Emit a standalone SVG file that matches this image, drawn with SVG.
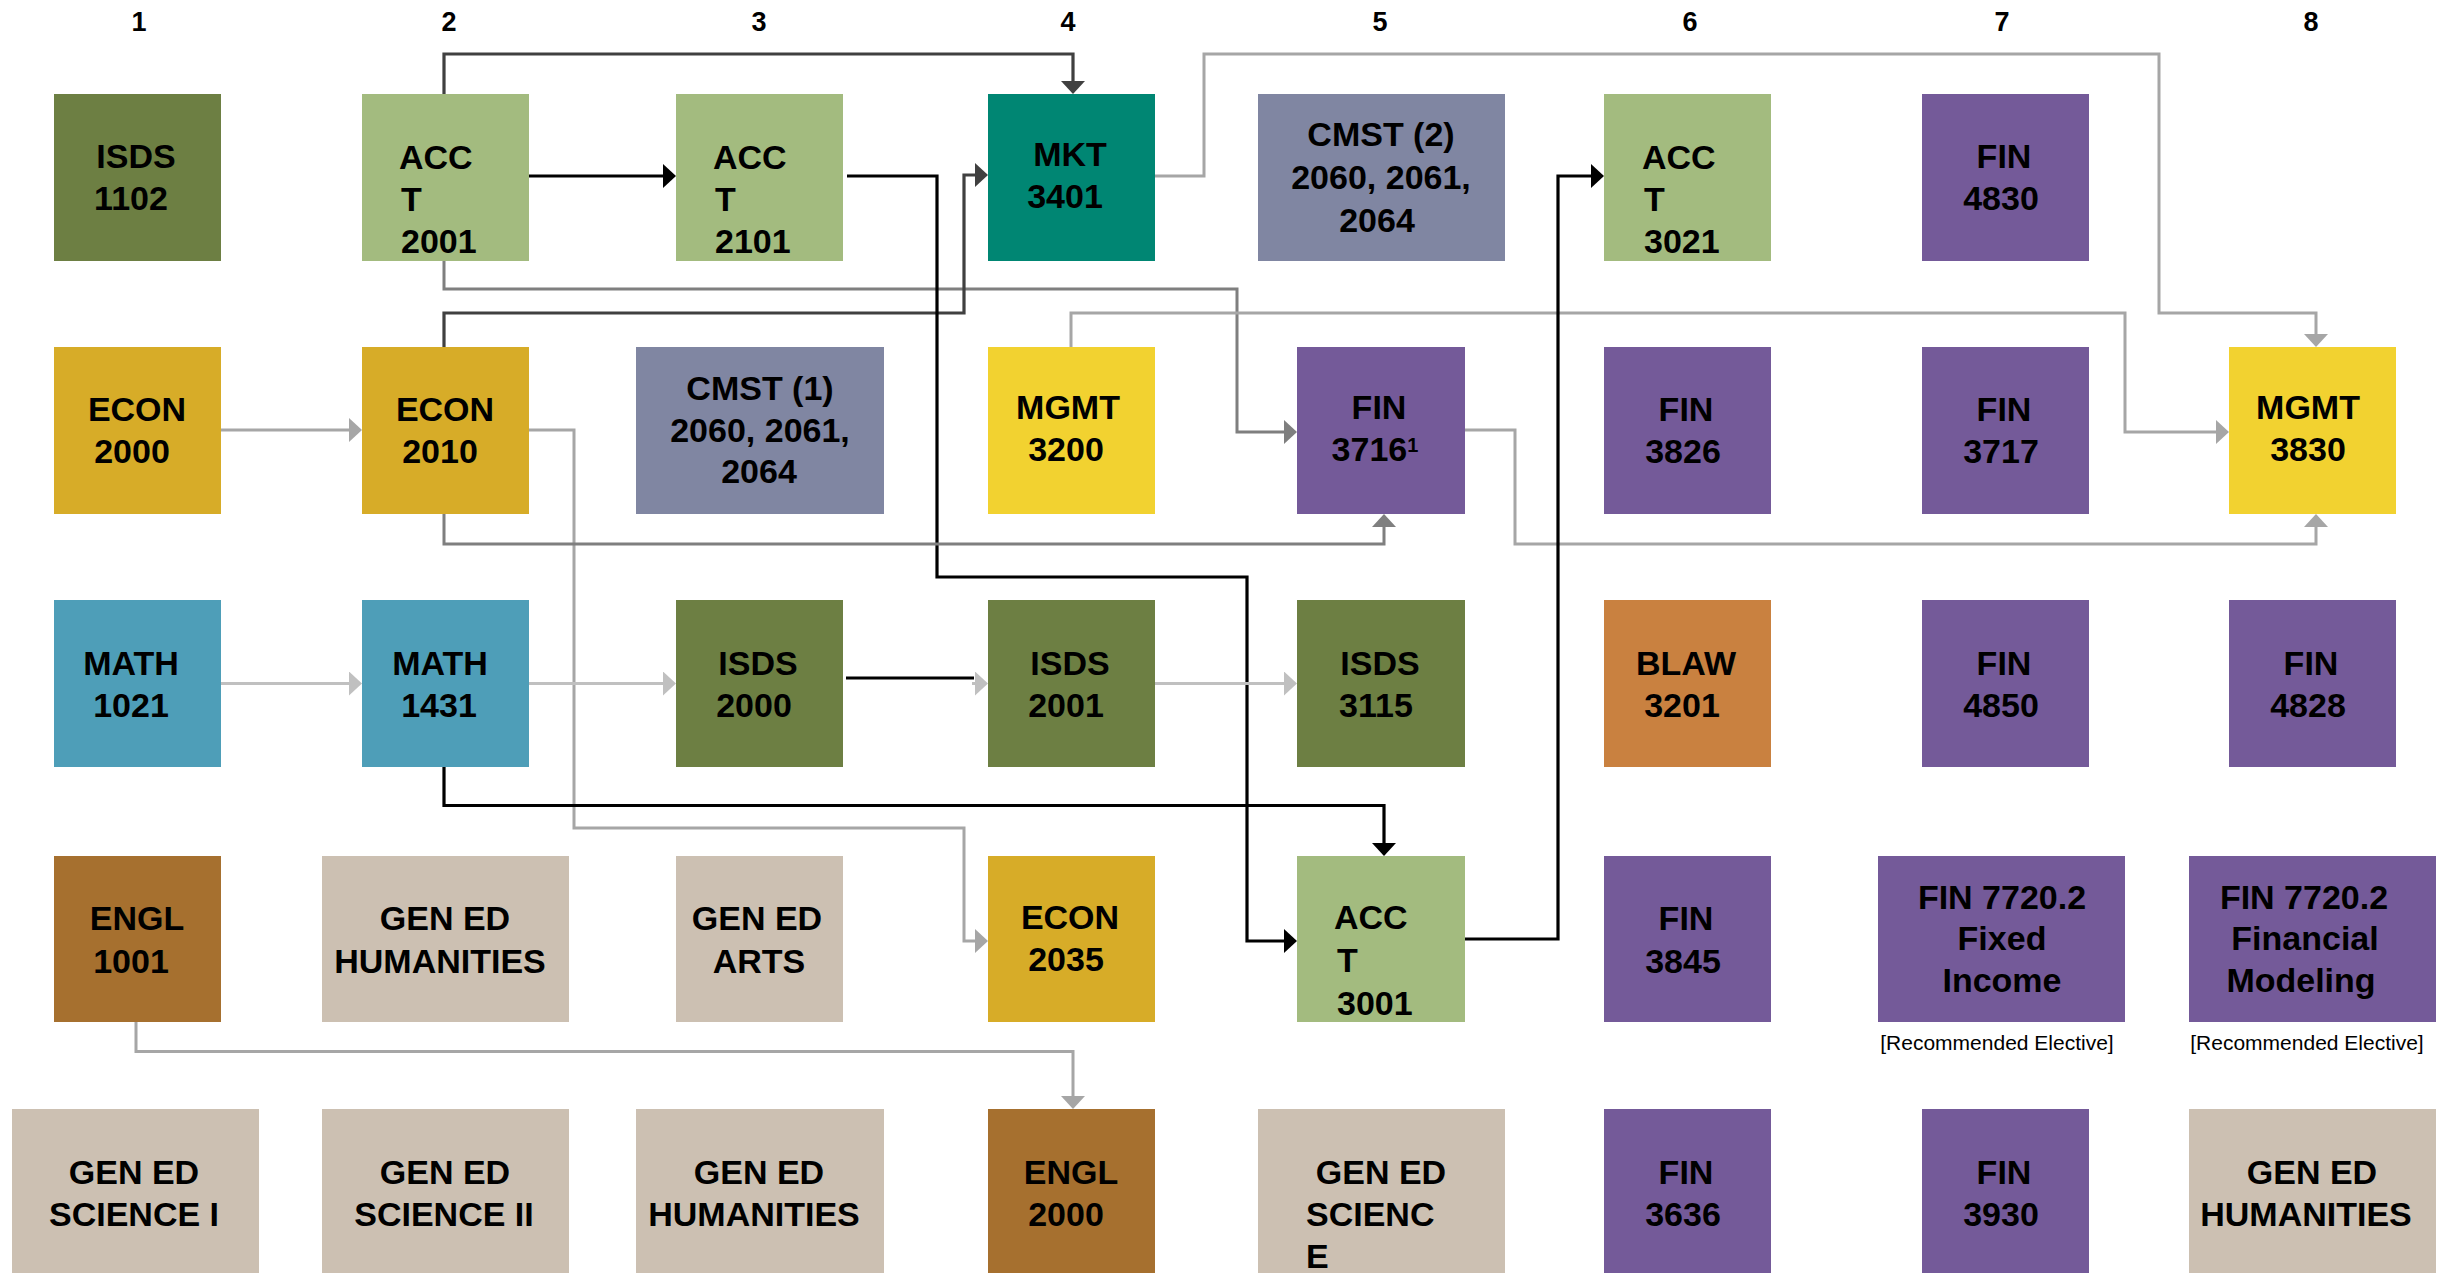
<svg xmlns="http://www.w3.org/2000/svg" width="2443" height="1273" viewBox="0 0 2443 1273">
<style>
  text { font-family: "Liberation Sans", Arial, sans-serif; font-weight: bold; fill: #000; }
  .hdr { font-size: 27px; text-anchor: middle; }
  .n text { font-size: 34px; }
  .c { text-anchor: middle; }
  .note { font-size: 21px; font-weight: normal; text-anchor: middle; }
  .isds { fill: #6D7F43; }
  .acct { fill: #A3BB7F; }
  .econ { fill: #D7AC28; }
  .cmst { fill: #8086A2; }
  .mkt { fill: #008673; }
  .mgmt { fill: #F2D230; }
  .fin { fill: #745A99; }
  .math { fill: #4E9EB8; }
  .blaw { fill: #C98140; }
  .engl { fill: #A6702F; }
  .gen { fill: #CCC0B2; }
  .ln { fill: none; stroke-linejoin: miter; }
  .k { stroke: #000; stroke-width: 3.2; }
  .d { stroke: #404040; stroke-width: 3.2; }
  .m { stroke: #7F7F7F; stroke-width: 3; }
  .l { stroke: #A6A6A6; stroke-width: 3; }
  .xl { stroke: #C0C0C0; stroke-width: 3; }
</style>
<defs>
  <marker id="ak" markerUnits="userSpaceOnUse" markerWidth="14" markerHeight="24" refX="0" refY="12" orient="auto"><path d="M0,0 L13,12 L0,24 Z" fill="#000"/></marker>
  <marker id="ad" markerUnits="userSpaceOnUse" markerWidth="14" markerHeight="24" refX="0" refY="12" orient="auto"><path d="M0,0 L13,12 L0,24 Z" fill="#404040"/></marker>
  <marker id="am" markerUnits="userSpaceOnUse" markerWidth="14" markerHeight="24" refX="0" refY="12" orient="auto"><path d="M0,0 L13,12 L0,24 Z" fill="#7F7F7F"/></marker>
  <marker id="al" markerUnits="userSpaceOnUse" markerWidth="14" markerHeight="24" refX="0" refY="12" orient="auto"><path d="M0,0 L13,12 L0,24 Z" fill="#A6A6A6"/></marker>
  <marker id="axl" markerUnits="userSpaceOnUse" markerWidth="14" markerHeight="24" refX="0" refY="12" orient="auto"><path d="M0,0 L13,12 L0,24 Z" fill="#C0C0C0"/></marker>
</defs>
<rect width="2443" height="1273" fill="#fff"/>

<g id="headers">
  <text class="hdr" x="139" y="31">1</text>
  <text class="hdr" x="449" y="31">2</text>
  <text class="hdr" x="759" y="31">3</text>
  <text class="hdr" x="1068" y="31">4</text>
  <text class="hdr" x="1380" y="31">5</text>
  <text class="hdr" x="1690" y="31">6</text>
  <text class="hdr" x="2002" y="31">7</text>
  <text class="hdr" x="2311" y="31">8</text>
</g>

<g id="connectors">
  <path class="ln d" d="M444,94 V54 H1073 V81" marker-end="url(#ad)"/>
  <path class="ln k" d="M529,176 H663" stroke-width="4" marker-end="url(#ak)"/>
  <path class="ln m" d="M444,261 V289 H1237 V432 H1284" marker-end="url(#am)"/>
  <path class="ln d" d="M444,347 V313 H964 V175 H975" marker-end="url(#ad)"/>
  <path class="ln k" d="M847,176 H937 V577 H1247 V941 H1284" marker-end="url(#ak)"/>
  <path class="ln l" d="M1155,176 H1204 V54 H2159 V313 H2316 V334" marker-end="url(#al)"/>
  <path class="ln l" d="M1071,347 V313 H2125 V432 H2216" marker-end="url(#al)"/>
  <path class="ln l" d="M221,430 H349" marker-end="url(#al)"/>
  <path class="ln l" d="M529,430 H574 V828 H964 V941 H975" marker-end="url(#al)"/>
  <path class="ln m" d="M444,514 V544 H1384 V527" marker-end="url(#am)"/>
  <path class="ln l" d="M1465,430 H1515 V544 H2316 V527" marker-end="url(#al)"/>
  <path class="ln xl" d="M221,683.5 H349" marker-end="url(#axl)"/>
  <path class="ln xl" d="M529,683.5 H663" marker-end="url(#axl)"/>
  <path class="ln xl" d="M972,683.5 H975" stroke-width="1" marker-end="url(#axl)"/>
  <path class="ln k" d="M846,678 H974" stroke-width="5"/>
  <path class="ln xl" d="M1155,683.5 H1284" marker-end="url(#axl)"/>
  <path class="ln k" d="M444,767 V805.5 H1384 V843" marker-end="url(#ak)"/>
  <path class="ln k" d="M1465,939 H1558 V176 H1591" marker-end="url(#ak)"/>
  <path class="ln l" d="M136,1022 V1051.5 H1073 V1096" marker-end="url(#al)"/>
</g>

<!-- Row 1 -->
<g id="isds1102" class="n"><rect class="isds" x="54" y="94" width="167" height="167"/><text class="c" x="136" y="168">ISDS</text><text class="c" x="131" y="210">1102</text></g>
<g id="acct2001" class="n"><rect class="acct" x="362" y="94" width="167" height="167"/><text x="399" y="169">ACC</text><text x="401" y="211">T</text><text x="401" y="253">2001</text></g>
<g id="acct2101" class="n"><rect class="acct" x="676" y="94" width="167" height="167"/><text x="713" y="169">ACC</text><text x="715" y="211">T</text><text x="715" y="253">2101</text></g>
<g id="mkt3401" class="n"><rect class="mkt" x="988" y="94" width="167" height="167"/><text class="c" x="1070" y="166">MKT</text><text class="c" x="1065" y="208">3401</text></g>
<g id="cmst2" class="n"><rect class="cmst" x="1258" y="94" width="247" height="167"/><text class="c" x="1381" y="146">CMST (2)</text><text class="c" x="1381" y="189">2060, 2061,</text><text class="c" x="1377" y="232">2064</text></g>
<g id="acct3021" class="n"><rect class="acct" x="1604" y="94" width="167" height="167"/><text x="1642" y="169">ACC</text><text x="1644" y="211">T</text><text x="1644" y="253">3021</text></g>
<g id="fin4830" class="n"><rect class="fin" x="1922" y="94" width="167" height="167"/><text class="c" x="2004" y="168">FIN</text><text class="c" x="2001" y="210">4830</text></g>

<!-- Row 2 -->
<g id="econ2000" class="n"><rect class="econ" x="54" y="347" width="167" height="167"/><text class="c" x="137" y="421">ECON</text><text class="c" x="132" y="463">2000</text></g>
<g id="econ2010" class="n"><rect class="econ" x="362" y="347" width="167" height="167"/><text class="c" x="445" y="421">ECON</text><text class="c" x="440" y="463">2010</text></g>
<g id="cmst1" class="n"><rect class="cmst" x="636" y="347" width="248" height="167"/><text class="c" x="760" y="400">CMST (1)</text><text class="c" x="760" y="442">2060, 2061,</text><text class="c" x="759" y="483">2064</text></g>
<g id="mgmt3200" class="n"><rect class="mgmt" x="988" y="347" width="167" height="167"/><text class="c" x="1068" y="419">MGMT</text><text class="c" x="1066" y="461">3200</text></g>
<g id="fin3716" class="n"><rect class="fin" x="1297" y="347" width="168" height="167"/><text class="c" x="1379" y="419">FIN</text><text class="c" x="1375" y="461">3716<tspan font-size="20" dy="-9">1</tspan></text></g>
<g id="fin3826" class="n"><rect class="fin" x="1604" y="347" width="167" height="167"/><text class="c" x="1686" y="421">FIN</text><text class="c" x="1683" y="463">3826</text></g>
<g id="fin3717" class="n"><rect class="fin" x="1922" y="347" width="167" height="167"/><text class="c" x="2004" y="421">FIN</text><text class="c" x="2001" y="463">3717</text></g>
<g id="mgmt3830" class="n"><rect class="mgmt" x="2229" y="347" width="167" height="167"/><text class="c" x="2308" y="419">MGMT</text><text class="c" x="2308" y="461">3830</text></g>

<!-- Row 3 -->
<g id="math1021" class="n"><rect class="math" x="54" y="600" width="167" height="167"/><text class="c" x="131" y="675">MATH</text><text class="c" x="131" y="717">1021</text></g>
<g id="math1431" class="n"><rect class="math" x="362" y="600" width="167" height="167"/><text class="c" x="440" y="675">MATH</text><text class="c" x="439" y="717">1431</text></g>
<g id="isds2000" class="n"><rect class="isds" x="676" y="600" width="167" height="167"/><text class="c" x="758" y="675">ISDS</text><text class="c" x="754" y="717">2000</text></g>
<g id="isds2001" class="n"><rect class="isds" x="988" y="600" width="167" height="167"/><text class="c" x="1070" y="675">ISDS</text><text class="c" x="1066" y="717">2001</text></g>
<g id="isds3115" class="n"><rect class="isds" x="1297" y="600" width="168" height="167"/><text class="c" x="1380" y="675">ISDS</text><text class="c" x="1376" y="717">3115</text></g>
<g id="blaw3201" class="n"><rect class="blaw" x="1604" y="600" width="167" height="167"/><text class="c" x="1686" y="675">BLAW</text><text class="c" x="1682" y="717">3201</text></g>
<g id="fin4850" class="n"><rect class="fin" x="1922" y="600" width="167" height="167"/><text class="c" x="2004" y="675">FIN</text><text class="c" x="2001" y="717">4850</text></g>
<g id="fin4828" class="n"><rect class="fin" x="2229" y="600" width="167" height="167"/><text class="c" x="2311" y="675">FIN</text><text class="c" x="2308" y="717">4828</text></g>

<!-- Row 4 -->
<g id="engl1001" class="n"><rect class="engl" x="54" y="856" width="167" height="166"/><text class="c" x="137" y="930">ENGL</text><text class="c" x="131" y="973">1001</text></g>
<g id="gened-hum1" class="n"><rect class="gen" x="322" y="856" width="247" height="166"/><text class="c" x="445" y="930">GEN ED</text><text class="c" x="440" y="973">HUMANITIES</text></g>
<g id="gened-arts" class="n"><rect class="gen" x="676" y="856" width="167" height="166"/><text class="c" x="757" y="930">GEN ED</text><text class="c" x="759" y="973">ARTS</text></g>
<g id="econ2035" class="n"><rect class="econ" x="988" y="856" width="167" height="166"/><text class="c" x="1070" y="929">ECON</text><text class="c" x="1066" y="971">2035</text></g>
<g id="acct3001" class="n"><rect class="acct" x="1297" y="856" width="168" height="166"/><text x="1334" y="929">ACC</text><text x="1337" y="972">T</text><text x="1337" y="1015">3001</text></g>
<g id="fin3845" class="n"><rect class="fin" x="1604" y="856" width="167" height="166"/><text class="c" x="1686" y="930">FIN</text><text class="c" x="1683" y="973">3845</text></g>
<g id="fin7720-fixed" class="n"><rect class="fin" x="1878" y="856" width="247" height="166"/><text class="c" x="2002" y="909">FIN 7720.2</text><text class="c" x="2002" y="950">Fixed</text><text class="c" x="2002" y="992">Income</text></g>
<g id="fin7720-model" class="n"><rect class="fin" x="2189" y="856" width="247" height="166"/><text class="c" x="2304" y="909">FIN 7720.2</text><text class="c" x="2305" y="950">Financial</text><text class="c" x="2301" y="992">Modeling</text></g>
<g id="notes">
  <text class="note" x="1997" y="1050">[Recommended Elective]</text>
  <text class="note" x="2307" y="1050">[Recommended Elective]</text>
</g>

<!-- Row 5 -->
<g id="gened-sci1" class="n"><rect class="gen" x="12" y="1109" width="247" height="170"/><text class="c" x="134" y="1184">GEN ED</text><text class="c" x="134" y="1226">SCIENCE I</text></g>
<g id="gened-sci2" class="n"><rect class="gen" x="322" y="1109" width="247" height="170"/><text class="c" x="445" y="1184">GEN ED</text><text class="c" x="444" y="1226">SCIENCE II</text></g>
<g id="gened-hum2" class="n"><rect class="gen" x="636" y="1109" width="248" height="170"/><text class="c" x="759" y="1184">GEN ED</text><text class="c" x="754" y="1226">HUMANITIES</text></g>
<g id="engl2000" class="n"><rect class="engl" x="988" y="1109" width="167" height="170"/><text class="c" x="1071" y="1184">ENGL</text><text class="c" x="1066" y="1226">2000</text></g>
<g id="gened-sci3" class="n"><rect class="gen" x="1258" y="1109" width="247" height="170"/><text class="c" x="1381" y="1184">GEN ED</text><text x="1306" y="1226">SCIENC</text><text x="1306" y="1268">E</text></g>
<g id="fin3636" class="n"><rect class="fin" x="1604" y="1109" width="167" height="170"/><text class="c" x="1686" y="1184">FIN</text><text class="c" x="1683" y="1226">3636</text></g>
<g id="fin3930" class="n"><rect class="fin" x="1922" y="1109" width="167" height="170"/><text class="c" x="2004" y="1184">FIN</text><text class="c" x="2001" y="1226">3930</text></g>
<g id="gened-hum3" class="n"><rect class="gen" x="2189" y="1109" width="247" height="170"/><text class="c" x="2312" y="1184">GEN ED</text><text class="c" x="2306" y="1226">HUMANITIES</text></g>
</svg>
